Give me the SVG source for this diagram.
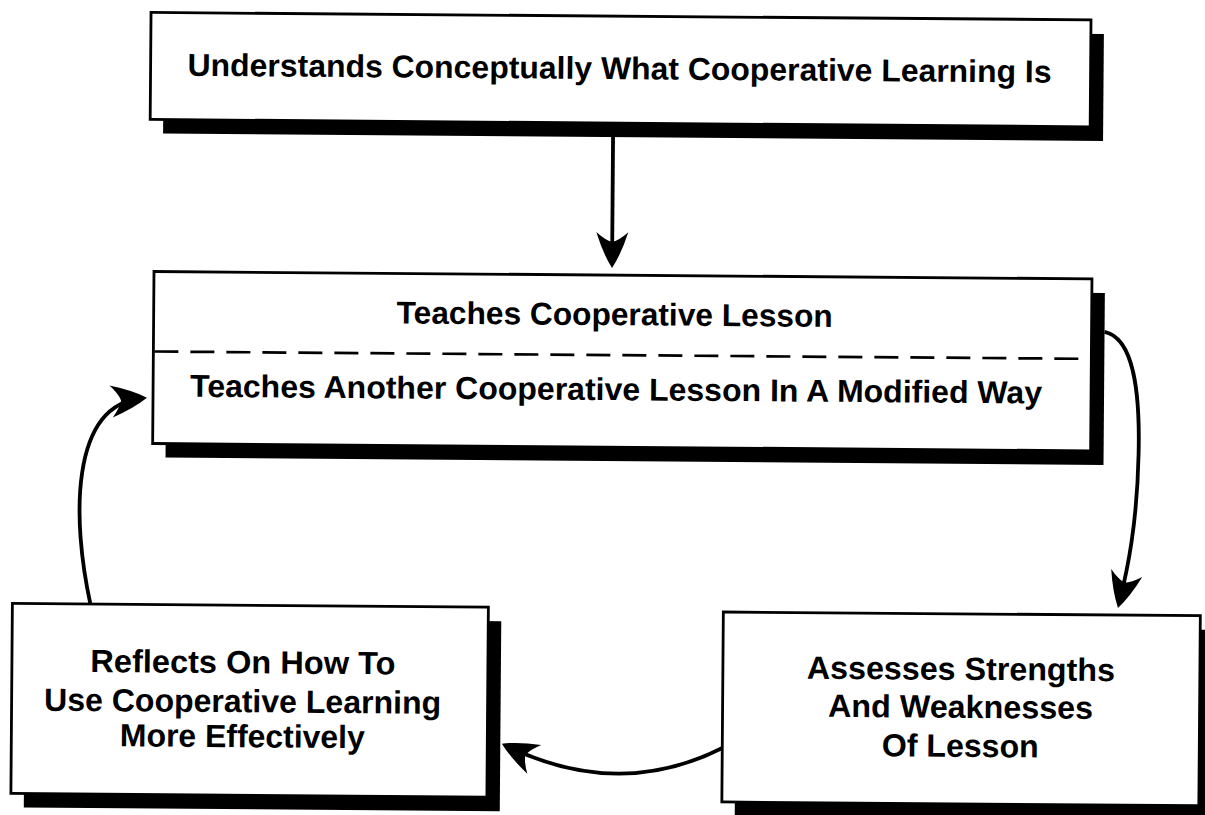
<svg xmlns="http://www.w3.org/2000/svg" width="1205" height="815" viewBox="0 0 1205 815">
  <defs>
    <style>
      .shadow { fill: #000; }
      .box { fill: #fff; stroke: #000; stroke-width: 2.8; }
      .label { font-family: "Liberation Sans", Arial, Helvetica, sans-serif; font-weight: bold; fill: #000; text-anchor: middle; }
      .big { font-size: 31.5px; }
      .small { font-size: 32px; }
      .divider { stroke: #000; stroke-width: 2.7; stroke-dasharray: 24 12; fill: none; }
      .link { fill: none; stroke: #000; stroke-width: 3.8; stroke-linecap: butt; }
    </style>
    <!-- barbed arrowhead, tip placed 6px beyond the end of the path -->
    <marker id="barb" markerUnits="userSpaceOnUse" markerWidth="60" markerHeight="60" refX="-6" refY="0" orient="auto" overflow="visible">
      <path d="M0,0 Q-14,-9 -36,-16 Q-28,-7 -26,0 Q-28,7 -36,16 Q-14,9 0,0 Z" fill="#000"/>
    </marker>
  </defs>

  <rect width="1205" height="815" fill="#fff"/>

  <g transform="rotate(0.45 600 400)">
    <!-- concept box -->
    <g id="node-understands">
      <rect class="shadow" x="161" y="30" width="940" height="107"/>
      <rect class="box" x="148" y="16" width="940" height="107"/>
      <text class="label big" x="617" y="79" textLength="864" lengthAdjust="spacingAndGlyphs">Understands Conceptually What Cooperative Learning Is</text>
    </g>

    <!-- lesson box with dashed divider -->
    <g id="node-teaches">
      <rect class="shadow" x="166" y="289" width="938" height="172"/>
      <rect class="box" x="153" y="275" width="938" height="172"/>
      <line class="divider" x1="154" y1="355" x2="1090" y2="355"/>
      <text class="label big" x="614" y="325" textLength="436" lengthAdjust="spacingAndGlyphs">Teaches Cooperative Lesson</text>
      <text class="label big" x="616" y="400" textLength="852" lengthAdjust="spacingAndGlyphs">Teaches Another Cooperative Lesson In A Modified Way</text>
    </g>

    <!-- reflection box -->
    <g id="node-reflects">
      <rect class="shadow" x="27" y="622" width="476" height="190"/>
      <rect class="box" x="14" y="608" width="476" height="190"/>
      <text class="label small" x="245" y="676" textLength="305" lengthAdjust="spacingAndGlyphs">Reflects On How To</text>
      <text class="label small" x="245" y="715" textLength="397" lengthAdjust="spacingAndGlyphs">Use Cooperative Learning</text>
      <text class="label small" x="245" y="750" textLength="245" lengthAdjust="spacingAndGlyphs">More Effectively</text>
    </g>

    <!-- assessment box -->
    <g id="node-assesses">
      <rect class="shadow" x="738" y="625" width="477" height="190"/>
      <rect class="box" x="725" y="611" width="477" height="190"/>
      <text class="label small" x="963" y="677" textLength="308" lengthAdjust="spacingAndGlyphs">Assesses Strengths</text>
      <text class="label small" x="963" y="715" textLength="265" lengthAdjust="spacingAndGlyphs">And Weaknesses</text>
      <text class="label small" x="963" y="754" textLength="157" lengthAdjust="spacingAndGlyphs">Of Lesson</text>
    </g>

    <!-- connectors -->
    <g id="connectors">
      <path class="link" d="M611,137 L611,262" marker-end="url(#barb)"/>
      <path class="link" d="M1104,328 C1134,334 1140,390 1139,450 C1138,520 1129,565 1121,598" marker-end="url(#barb)"/>
      <path class="link" d="M725,747 Q622,800 510,747" marker-end="url(#barb)"/>
      <path class="link" d="M92,608 C73,524 70,410 141,402" marker-end="url(#barb)"/>
    </g>
  </g>
</svg>
